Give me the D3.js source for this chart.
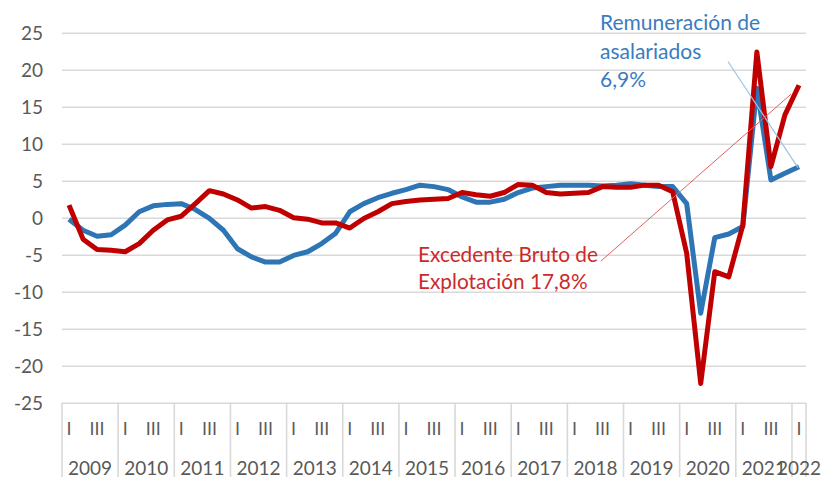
<!DOCTYPE html>
<html><head><meta charset="utf-8">
<script src="https://cdn.jsdelivr.net/npm/d3@7"></script>
<style>
html,body{margin:0;padding:0;background:#fff;}
svg{display:block;font-family:Lato,"Open Sans",sans-serif;}
</style></head>
<body>
<svg id="c" width="823" height="477"></svg>
<script>
// ---- data ----
const years = [2009,2010,2011,2012,2013,2014,2015,2016,2017,2018,2019,2020,2021,2022];
const quarterNames = ["I","II","III","IV"];
const quarterTickLabels = ["I","","III",""];
const yTicks = [-25,-20,-15,-10,-5,0,5,10,15,20,25];
// Remuneración de asalariados (blue), 2009Q1..2022Q1
const remuneracion = [
  -0.2,-1.7,-2.5,-2.3, -1.0,0.8,1.6,1.8, 1.9,1.1,-0.1,-1.7,
  -4.2,-5.3,-6.0,-6.0, -5.1,-4.6,-3.5,-2.1, 0.8,1.9,2.7,3.3,
  3.8,4.4,4.2,3.8, 2.8,2.1,2.1,2.5, 3.4,4.0,4.2,4.4,
  4.4,4.4,4.3,4.4, 4.6,4.4,4.2,4.2, 1.9,-12.9,-2.7,-2.2,
  -1.2,17.5,5.1,6.0, 6.9
];
// Excedente Bruto de Explotación (red), 2009Q1..2022Q1
const excedente = [
  1.7,-2.9,-4.3,-4.4, -4.6,-3.5,-1.7,-0.3, 0.2,1.9,3.65,3.2,
  2.4,1.3,1.5,1.0, 0.0,-0.2,-0.7,-0.7, -1.4,-0.1,0.8,1.9,
  2.2,2.4,2.5,2.6, 3.4,3.1,2.9,3.4, 4.5,4.4,3.4,3.2,
  3.3,3.4,4.2,4.1, 4.1,4.4,4.4,3.5, -4.8,-22.4,-7.3,-8.0,
  -1.0,22.4,6.9,13.9, 17.9
];
const labelRem = ["Remuneración de","asalariados","6,9%"];
const labelExc = ["Excedente Bruto de","Explotación 17,8%"];

// ---- build periods ----
const periods = [];
years.forEach(yr => quarterNames.forEach((q,qi) => {
  if (yr < 2022 || qi === 0) periods.push({year:yr, q:qi, key:yr+"-"+q});
}));

const svg = d3.select("#c");
const pLeft = 62, pRight = 806, pTop = 32.7, pBottom = 402.7;

const x = d3.scaleBand().domain(periods.map(p=>p.key)).range([pLeft,pRight]).padding(0);
const xc = k => x(k) + x.bandwidth()/2;
const y = d3.scaleLinear().domain([-25,25]).range([pBottom,pTop]);

// gridlines
const grid = svg.append("g").attr("transform",`translate(${pLeft},0)`)
  .call(d3.axisLeft(y).tickValues(yTicks).tickSize(-(pRight-pLeft)).tickFormat(""));
grid.select(".domain").remove();
grid.selectAll(".tick line").attr("stroke","#d9d9d9").attr("stroke-width",1.6);

// y labels
const ya = svg.append("g").attr("transform",`translate(43,0)`)
  .call(d3.axisLeft(y).tickValues(yTicks).tickSize(0).tickPadding(0).tickFormat(d=>String(d)));
ya.select(".domain").remove();
ya.selectAll(".tick text").attr("fill","#595959").style("font-size","19px")
  .style("font-family","Lato,sans-serif").attr("dy","0.36em");

// x axis: quarter labels
const xa = svg.append("g").attr("transform",`translate(0,${pBottom})`)
  .call(d3.axisBottom(x).tickSize(0).tickPadding(0)
    .tickFormat(k => quarterTickLabels[periods.find(p=>p.key===k).q]));
xa.select(".domain").remove();
xa.selectAll(".tick text").attr("fill","#595959").style("font-size","18px")
  .attr("dy",0).attr("y",32.5);

// year dividers and labels
const yearInfo = years.map(yr => {
  const ps = periods.filter(p=>p.year===yr);
  const x0 = x(ps[0].key), x1 = x(ps[ps.length-1].key) + x.bandwidth();
  return {yr, x0, x1};
});
const divs = [pLeft, ...yearInfo.map(d=>d.x1)];
svg.append("g").selectAll("line").data(divs).join("line")
  .attr("x1",d=>d).attr("x2",d=>d).attr("y1",pBottom).attr("y2",477)
  .attr("stroke","#d9d9d9").attr("stroke-width",1.6);
svg.append("g").selectAll("text").data(yearInfo).join("text")
  .attr("x",d=>(d.x0+d.x1)/2).attr("y",474.5).attr("text-anchor","middle")
  .attr("fill","#595959").style("font-size","19px").text(d=>d.yr);

// lines
const line = vals => d3.line().x((d,i)=>xc(periods[i].key)).y(d=>y(d))(vals);
svg.append("path").attr("d",line(remuneracion)).attr("fill","none")
  .attr("stroke","#2e75b6").attr("stroke-width",5).attr("stroke-linejoin","round");
svg.append("path").attr("d",line(excedente)).attr("fill","none")
  .attr("stroke","#c00000").attr("stroke-width",5).attr("stroke-linejoin","round");

// annotations
const last = periods.length-1;
const lx = xc(periods[last].key);
svg.append("line").attr("x1",728).attr("y1",61.5)
  .attr("x2",lx-1).attr("y2",y(remuneracion[last])+1)
  .attr("stroke","#9dc3e6").attr("stroke-width",1.2);
svg.append("line").attr("x1",601).attr("y1",261)
  .attr("x2",lx-8).attr("y2",y(excedente[last])+9)
  .attr("stroke","#e06060").attr("stroke-width",1);

const tb = svg.append("text").attr("fill","#3a7cc0").style("font-size","21px");
labelRem.forEach((t,i)=>tb.append("tspan").attr("x",600).attr("y",30+i*28.5).text(t));
const tr = svg.append("text").attr("fill","#cc2a2a").style("font-size","20.8px");
labelExc.forEach((t,i)=>tr.append("tspan").attr("x",418).attr("y",261.5+i*27.7).text(t));
</script>
</body></html>
